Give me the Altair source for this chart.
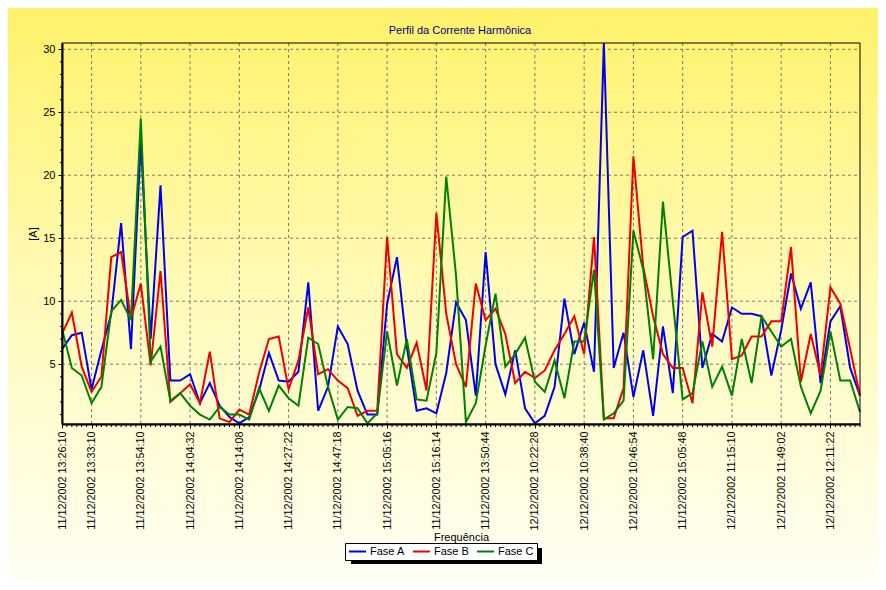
import altair as alt
import pandas as pd

# ---------------- data ----------------
series_names = ["Fase A", "Fase B", "Fase C"]
series_colors = ["#0000F0", "#F00000", "#008000"]

fase_a = [6.2, 7.3, 7.5, 3.0, 6.1, 9.0, 16.2, 6.2, 22.8, 7.0,
          19.2, 3.7, 3.7, 4.2, 1.9, 3.5, 1.7, 0.8, 0.3, 0.8,
          2.9, 5.9, 3.7, 3.6, 4.4, 11.5, 1.3, 3.2, 8.0, 6.6,
          2.9, 1.0, 1.0, 9.8, 13.5, 6.4, 1.3, 1.5, 1.1, 4.3,
          9.9, 8.5, 2.5, 13.9, 5.0, 2.6, 6.1, 1.5, 0.3, 0.9,
          3.2, 10.2, 5.8, 8.3, 4.4, 30.5, 4.7, 7.5, 2.4, 6.1,
          0.9, 8.0, 2.7, 15.1, 15.6, 4.7, 7.4, 6.8, 9.5, 9.0,
          9.0, 8.8, 4.1, 7.7, 12.2, 9.4, 11.5, 3.5, 8.4, 9.6,
          4.7, 2.5]

fase_b = [7.4, 9.1, 4.8, 2.8, 4.0, 13.5, 13.9, 8.6, 11.4, 4.9,
          12.4, 2.0, 2.7, 3.4, 1.9, 6.0, 0.7, 0.4, 1.4, 1.0,
          4.3, 7.0, 7.2, 3.0, 5.3, 9.5, 4.2, 4.6, 3.7, 3.1,
          0.9, 1.3, 1.3, 15.1, 5.8, 4.7, 6.7, 2.9, 17.0, 9.0,
          5.0, 3.2, 11.4, 8.5, 9.4, 7.4, 3.5, 4.4, 3.9, 4.5,
          6.1, 7.4, 8.8, 5.8, 15.1, 0.7, 0.7, 3.1, 21.5, 12.7,
          8.8, 5.8, 4.7, 4.7, 1.9, 10.7, 6.4, 15.5, 5.4, 5.7,
          7.2, 7.2, 8.4, 8.4, 14.3, 3.6, 7.4, 4.1, 11.1, 9.8,
          6.2, 2.5]

fase_c = [7.8, 4.7, 4.1, 1.9, 3.2, 9.2, 10.1, 8.5, 24.5, 5.2,
          6.4, 2.1, 2.7, 1.7, 1.0, 0.6, 1.6, 1.0, 1.0, 0.6,
          3.1, 1.3, 3.3, 2.3, 1.7, 7.1, 6.6, 3.2, 0.6, 1.6,
          1.5, 0.3, 1.1, 7.6, 3.3, 7.0, 2.2, 2.1, 5.9, 19.9,
          12.0, 0.4, 1.9, 6.5, 10.6, 4.8, 5.8, 7.1, 3.6, 2.8,
          5.3, 2.3, 6.8, 6.8, 12.5, 0.6, 1.1, 2.1, 15.6, 12.5,
          5.4, 17.9, 10.0, 2.2, 2.7, 6.8, 3.2, 4.8, 2.5, 7.0,
          3.5, 8.8, 7.6, 6.4, 7.0, 3.2, 1.1, 2.9, 7.6, 3.7,
          3.7, 1.2]

label_index = [0, 3, 8, 13, 18, 23, 28, 33, 38, 43, 48, 53, 58, 63, 68, 73, 78]
label_text = [
    "11/12/2002 13:26:10", "11/12/2002 13:33:10", "11/12/2002 13:54:10",
    "11/12/2002 14:04:32", "11/12/2002 14:14:08", "11/12/2002 14:27:22",
    "11/12/2002 14:47:18", "11/12/2002 15:05:16", "11/12/2002 15:16:14",
    "11/12/2002 13:50:44", "12/12/2002 10:22:28", "12/12/2002 10:38:40",
    "12/12/2002 10:46:54", "11/12/2002 15:05:48", "12/12/2002 11:15:10",
    "12/12/2002 11:49:02", "12/12/2002 12:11:22",
]
y_ticks = [5, 10, 15, 20, 25, 30]
chart_title = "Perfil da Corrente Harmônica"

# ---------------- layout ----------------
W, H = 798, 381
FONT = "Liberation Sans"
n_points = len(fase_a)

rows = []
for name, vals in zip(series_names, [fase_a, fase_b, fase_c]):
    for i, v in enumerate(vals):
        rows.append({"i": i, "v": v, "fase": name})
df = pd.DataFrame(rows)

xscale = alt.Scale(domain=[0, n_points - 1], nice=False, zero=False)
yscale = alt.Scale(domain=[0.25, 30.5], nice=False, zero=False)

lab_arr = [""] * n_points
for k, t in zip(label_index, label_text):
    lab_arr[k] = t
label_expr = "[" + ",".join("'" + s + "'" for s in lab_arr) + "][datum.value]"

x_axis = alt.Axis(values=label_index, labelExpr=label_expr, labelAngle=270,
                  labelFontSize=10.8, labelFont=FONT, labelColor="black",
                  tickSize=4, tickColor="black", domainColor="black", domainWidth=2,
                  labelPadding=3, labelFlush=False, labelOverlap=False,
                  title="Frequência", titleFont=FONT, titleFontSize=11,
                  titleFontWeight="normal", titleColor="black",
                  titleY=113, titleBaseline="middle",
                  grid=False, zindex=1)
y_axis = alt.Axis(values=y_ticks, labelFontSize=11, labelFont=FONT, labelColor="black",
                  tickSize=4, tickColor="black", domainColor="black", domainWidth=2,
                  labelPadding=3, title="[A]", titleFont=FONT, titleFontSize=11,
                  titleFontWeight="normal", titleColor="black", titlePadding=4,
                  grid=False, zindex=1)

one = pd.DataFrame({"k": [0]})

bg = alt.Chart(one).mark_rect(
    fill=alt.LinearGradient(
        gradient="linear",
        stops=[alt.GradientStop(color="#FFF26A", offset=0),
               alt.GradientStop(color="#FFFAB8", offset=0.5),
               alt.GradientStop(color="#FFFFF4", offset=1)],
        x1=0, x2=0, y1=0, y2=1),
    strokeWidth=0,
).encode(x=alt.value(-54), x2=alt.value(816), y=alt.value(-35), y2=alt.value(539))

shadow = alt.Chart(one).mark_rect(fill="black", strokeWidth=0).encode(
    x=alt.value(289), x2=alt.value(480), y=alt.value(505), y2=alt.value(521))

title_text = alt.Chart(pd.DataFrame({"t": [chart_title]})).mark_text(
    font=FONT, fontSize=11, color="#000080", align="center", baseline="middle"
).encode(text="t:N", x=alt.value(W / 2 - 1), y=alt.value(-12))

grid_style = dict(color="#7a7a6a", strokeDash=[3, 3], strokeWidth=1)

ygrid = alt.Chart(pd.DataFrame({"v": y_ticks})).mark_rule(**grid_style).encode(
    y=alt.Y("v:Q", scale=yscale, axis=y_axis), x=alt.value(0), x2=alt.value(W))

xgrid = alt.Chart(pd.DataFrame({"i": label_index[1:]})).mark_rule(**grid_style).encode(
    x=alt.X("i:Q", scale=xscale, axis=x_axis), y=alt.value(0), y2=alt.value(H))

x_minor = [k / 2 for k in range(0, 2 * (n_points - 1) + 1) if (k / 2) not in label_index]
y_minor = [v for v in range(1, 31) if v % 5 != 0]

xminor = alt.Chart(pd.DataFrame({"i": x_minor})).mark_rule(color="black", strokeWidth=1).encode(
    x=alt.X("i:Q", scale=xscale, axis=x_axis), y=alt.value(H), y2=alt.value(H + 3))

yminor = alt.Chart(pd.DataFrame({"v": y_minor})).mark_rule(color="black", strokeWidth=1).encode(
    y=alt.Y("v:Q", scale=yscale, axis=y_axis), x=alt.value(-2), x2=alt.value(0))

lines = alt.Chart(df).mark_line(strokeWidth=2).encode(
    x=alt.X("i:Q", scale=xscale, axis=x_axis),
    y=alt.Y("v:Q", scale=yscale, axis=y_axis),
    color=alt.Color("fase:N",
                    scale=alt.Scale(domain=series_names, range=series_colors),
                    legend=alt.Legend(orient="none", legendX=283, legendY=500,
                                      direction="horizontal", title=None,
                                      fillColor="white", strokeColor="black",
                                      padding=3, clipHeight=11,
                                      symbolType="stroke", symbolSize=289,
                                      symbolStrokeWidth=2, labelFontSize=11, labelFont=FONT,
                                      labelColor="black", columnPadding=7, labelOffset=3)),
    order=alt.Order("i:Q"),
)

frame = alt.Chart(one).mark_rect(filled=False, stroke="black", strokeWidth=1).encode(
    x=alt.value(0), x2=alt.value(W), y=alt.value(0), y2=alt.value(H))

chart = alt.layer(bg, shadow, title_text, ygrid, xgrid, xminor, yminor, lines, frame).properties(
    width=W, height=H,
    autosize=alt.AutoSizeParams(type="none"),
    padding={"left": 54, "top": 35, "right": 18, "bottom": 158},
).configure_view(stroke=None)

chart.save("out.html", embed_options={"renderer": "svg", "actions": False})
